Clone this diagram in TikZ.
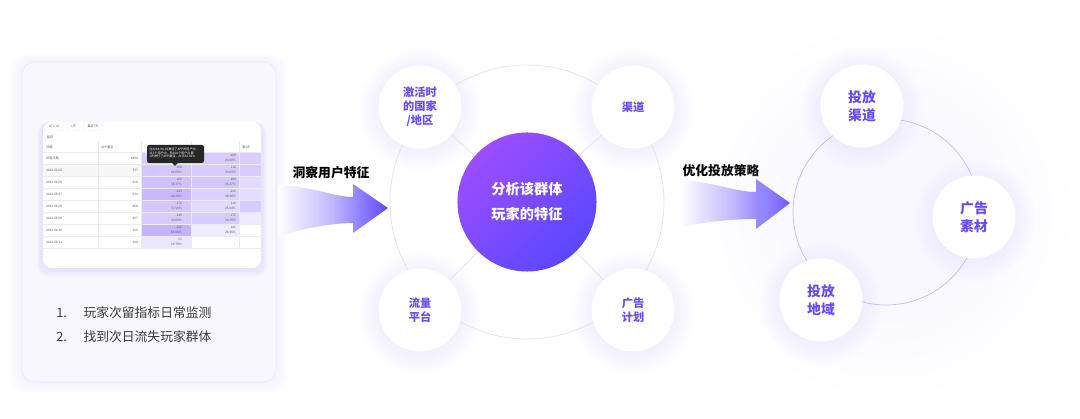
\documentclass[tikz,border=0pt]{standalone}
\usepackage{fontspec}
\setmainfont{Noto Sans CJK SC}
\usepackage{tikz}
\usetikzlibrary{positioning,calc}
\definecolor{zise}{HTML}{6A4CF5}
\definecolor{ziqian}{HTML}{9C4DFF}
\definecolor{zishen}{HTML}{5A48FF}
\definecolor{jiantou}{HTML}{5E48FF}
\definecolor{huan}{HTML}{E2E2E8}
\definecolor{huanzi}{HTML}{C4BAF8}
\definecolor{yun}{HTML}{E3DCFD}
\definecolor{mianban}{HTML}{F8F7FE}
\definecolor{biao}{HTML}{A98CFF}
\definecolor{wenzi}{HTML}{3A3A3A}

\begin{document}
\begin{tikzpicture}[x=0.025cm,y=-0.025cm,
  quan/.style={circle,fill=white,minimum size=2.075cm,inner sep=0pt,align=center,text=zise,font=\bfseries\fontsize{8}{10}\selectfont},
  quanda/.style={quan,font=\bfseries\fontsize{9.8}{12.6}\selectfont},
  biaoti/.style={font=\bfseries\fontsize{9.1}{11}\selectfont,text=black},
  liebiao/.style={font=\fontsize{9.1}{11}\selectfont,text=wenzi,anchor=west,inner sep=0pt},
  xiaozi/.style={font=\fontsize{2.2}{2.7}\selectfont,text=black!65,inner sep=0pt},
  xian/.style={draw=black!8,line width=0.2pt}]
  \useasboundingbox (0,0) rectangle (1080,419);

  % 左侧面板
  \foreach \k in {1,...,8}
    \fill[yun,opacity=0.05,rounded corners=10] ({22-\k*1.5},{62-\k}) rectangle ({276+\k*1.5},{382+\k*1.5});
  \filldraw[fill=mianban,draw=yun!70,rounded corners=9] (22,62) rectangle (276,382);

  % 截图卡片
  \foreach \k in {1,...,6}
    \fill[yun,opacity=0.2,rounded corners=8] ({43-\k},{125-\k*0.5}) rectangle ({261+\k},{268+\k*1.5});
  \fill[white,rounded corners=6] (43,122) rectangle (261,268);

  % 筛选栏
  \foreach \xa/\xb/\wz in {44/64/{UTC +8}, 67/80/{1天}, 83/103/{最近7天}} {
    \draw[xian,rounded corners=1] (\xa,123) rectangle (\xb,130);
    \node[xiaozi] at ({(\xa+\xb)/2},126.5) {\wz};
  }
  \draw[xian,rounded corners=1] (44,134) rectangle (56,141);
  \node[xiaozi] at (50,137.5) {留存};

  % 表格底色
  \fill[black!3] (43,164) rectangle (141,176);
  \foreach \r/\a/\b/\d in {0/45/45/42,1/50/45/45,2/55/50/32,3/62/40/30,4/50/32/45,5/45/45/18,6/66/18/0,7/22/0/0} {
    \fill[biao!\a] (141,{152+12*\r}) rectangle (191,{164+12*\r});
    \fill[biao!\b] (191,{152+12*\r}) rectangle (239,{164+12*\r});
    \fill[biao!\d] (239,{152+12*\r}) rectangle (261,{164+12*\r});
  }
  \foreach \r in {0,...,8}
    \draw[xian] (43,{152+12*\r}) -- (261,{152+12*\r});
  \foreach \cx in {98,141,191,239}
    \draw[xian] (\cx,142) -- (\cx,248);

  % 表头
  \node[xiaozi,anchor=west] at (46,147) {日期};
  \node[xiaozi,anchor=west] at (101,147) {APP激活};
  \node[xiaozi,anchor=west] at (242,147) {第2天};

  % 表格数据
  \foreach \r/\rq/\v in {0/所有日期/8893,1/2024-06-05/337,2/2024-06-06/508,3/2024-06-07/524,4/2024-06-08/468,5/2024-06-09/487,6/2024-06-10/355,7/2024-06-11/268} {
    \node[xiaozi,anchor=west] at (46,{158+12*\r}) {\rq};
    \node[xiaozi,anchor=east] at (138,{158+12*\r}) {\v};
  }
  \foreach \r/\a/\ap/\b/\bp in {1/108/32.05\%/112/33.23\%,2/180/35.37\%/180/35.37\%,3/243/46.28\%/201/38.36\%,4/176/37.50\%/120/25.64\%,5/149/30.60\%/177/36.35\%,6/226/63.66\%/101/28.45\%,7/53/19.78\%/-/-} {
    \node[xiaozi,anchor=east] at (182,{155.7+12*\r}) {\a};
    \node[xiaozi,anchor=east] at (182,{160.3+12*\r}) {\ap};
    \node[xiaozi,anchor=east] at (236,{155.7+12*\r}) {\b};
    \node[xiaozi,anchor=east] at (236,{160.3+12*\r}) {\bp};
  }
  \node[xiaozi,anchor=east] at (236,155.7) {689};
  \node[xiaozi,anchor=east] at (236,160.3) {24.80\%};

  % 提示框
  \fill[black!85,rounded corners=1.5] (147,145) rectangle (204,163);
  \fill[black!85] (172,163) -- (178,163) -- (175,166) -- cycle;
  \node[xiaozi,text=white,align=left,anchor=north west] at (149,147.5) {在2024-06-05激活了APP的用户中，\\337个用户中，有108个用户在第\\1天进行了APP激活，占比32.05\%};

  % 列表
  \node[liebiao] (n1) at (56,313) {1.};
  \node[liebiao,base right=0.4cm of n1] (x1) {玩家次留指标日常监测};
  \node[liebiao] (n2) at (56,337) {2.};
  \node[liebiao,base right=0.4cm of n2] (x2) {找到次日流失玩家群体};

  % 左箭头
  \shade[left color=white,right color=jiantou,middle color=jiantou!40]
    (278,185) .. controls (315,187) and (335,197) .. (353,197) -- (353,184) -- (388,208)
    -- (353,233) -- (353,223) .. controls (335,223) and (310,227) .. (278,236) -- cycle;
  \node[biaoti] (dongcha) at (331,173) {洞察用户特征};

  % 中间：特征分析
  \coordinate (zx) at (527,202);
  \coordinate (p1) at (420,107);
  \coordinate (p2) at (633,107);
  \coordinate (p3) at (420,310);
  \coordinate (p4) at (633,310);
  \foreach \p in {p1,p2,p3,p4}
    \foreach \k in {1,...,12}
      \fill[yun,opacity=0.045] ($(\p)+(0,3)$) circle ({40+\k*1.8});
  \draw[huan,line width=0.5pt] (zx) circle (137);
  \node[quan] (jihuo) at (p1) {激活时\\的国家\\/地区};
  \node[quan] (qudao) at (p2) {渠道};
  \node[quan] (liuliang) at (p3) {流量\\平台};
  \node[quan] (jihua) at (p4) {广告\\计划};
  \node[circle,minimum size=3.475cm,inner sep=0pt,top color=ziqian,middle color=zishen!85!ziqian,bottom color=zishen,shading angle=45,
        text=white,align=center,font=\bfseries\fontsize{10.1}{17.8}\selectfont] (hexin) at (zx) {分析该群体\\玩家的特征};
  \draw[huan,line width=0.5pt] (hexin) -- (jihuo);
  \draw[huan,line width=0.5pt] (hexin) -- (qudao);
  \draw[huan,line width=0.5pt] (hexin) -- (liuliang);
  \draw[huan,line width=0.5pt] (hexin) -- (jihua);

  % 右箭头
  \shade[left color=white,right color=jiantou,middle color=jiantou!40]
    (680,180) .. controls (715,182) and (735,192) .. (756,192) -- (756,179) -- (790,203)
    -- (756,229) -- (756,219) .. controls (735,219) and (710,221) .. (680,227) -- cycle;
  \node[biaoti] (youhua) at (721,171) {优化投放策略};

  % 右侧：投放策略
  \coordinate (yx) at (886,212);
  \coordinate (q1) at (862,106);
  \coordinate (q2) at (974,217);
  \coordinate (q3) at (821,300);
  \foreach \k in {1,...,20}
    \fill[yun,opacity=0.012] (yx) circle ({70+\k*6});
  \foreach \p in {q1,q2,q3}
    \foreach \k in {1,...,12}
      \fill[yun,opacity=0.045] ($(\p)+(0,3)$) circle ({40+\k*1.8});
  \draw[huanzi,line width=0.5pt] (yx) circle (93);
  \node[quanda] (qd) at (q1) {投放\\渠道};
  \node[quanda] (sc) at (q2) {广告\\素材};
  \node[quanda] (dy) at (q3) {投放\\地域};
\end{tikzpicture}
\end{document}
